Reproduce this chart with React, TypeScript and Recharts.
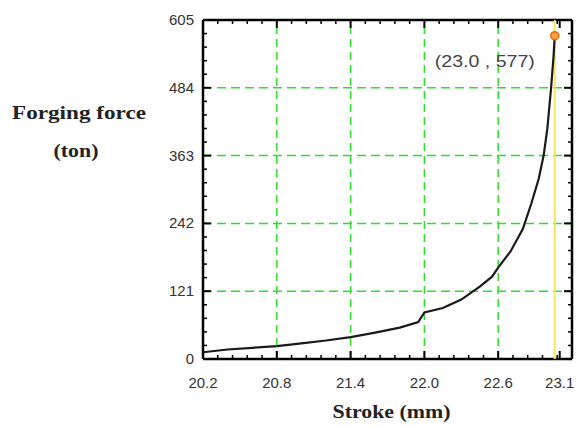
import { LineChart, Line, XAxis, YAxis, ReferenceLine, ReferenceDot } from 'recharts'

// stroke (mm) vs forging force (ton)
const strokeMm = [20.2, 20.4, 20.6, 20.8, 21.0, 21.2, 21.4, 21.6, 21.8, 21.95, 22.0, 22.15, 22.3, 22.45, 22.55, 22.6, 22.7, 22.8, 22.87, 22.93, 22.97, 23.0, 23.03, 23.05, 23.06]
const forceTon = [12, 17, 20, 23, 28, 33, 39, 47, 56, 66, 83, 91, 106, 129, 147, 163, 192, 232, 278, 322, 364, 412, 484, 540, 577]

const xMajor = [20.2, 20.8, 21.4, 22.0, 22.6, 23.1]
const yMajor = [0, 121, 242, 363, 484, 605]
const xGrid = [20.8, 21.4, 22.0, 22.6]
const yGrid = [121, 242, 363, 484]
const xDomain = [20.2, 23.2]
const yDomain = [0, 605]

const peak = { stroke: 23.06, force: 577, label: '(23.0 , 577)' }

const data = strokeMm.map((s, i) => ({ stroke: s, force: forceTon[i] }))
const margin = { top: 20, right: 9, bottom: 0, left: 0 }

// minor ticks: 5 subdivisions between the majors
const xMinor = Array.from({ length: 26 }, (_, k) => +(20.2 + k * 0.12).toFixed(2))
const yMinor = Array.from({ length: 26 }, (_, k) => +(k * 24.2).toFixed(1))
const xTicks = xMinor.concat(xMajor.filter(v => !xMinor.includes(v)))

const isMajor = (list: number[], v: number) => list.some(t => Math.abs(t - v) < 1e-6)

const tickFont = { fontFamily: 'Arial, "Liberation Sans", sans-serif', fontSize: 15, fill: '#333' }
const titleFont = { fontFamily: '"Times New Roman", "Liberation Serif", serif', fontSize: 18, fontWeight: 700, fill: '#222' }

// inward tick marks, drawn from a dot sitting on the frame edge
type Dir = 'up' | 'down' | 'right' | 'left'
const makeTick = (dir: Dir, len: number, w: number) => (p: any) => {
  const { cx, cy } = p
  const x2 = dir === 'right' ? cx + len : dir === 'left' ? cx - len : cx
  const y2 = dir === 'up' ? cy - len : dir === 'down' ? cy + len : cy
  return <line x1={cx} y1={cy} x2={x2} y2={y2} stroke="#000" strokeWidth={w} />
}
const tickShapes = {
  up: [makeTick('up', 8, 2), makeTick('up', 4, 1.5)],
  down: [makeTick('down', 8, 2), makeTick('down', 4, 1.5)],
  right: [makeTick('right', 8, 2), makeTick('right', 4, 1.5)],
  left: [makeTick('left', 8, 2), makeTick('left', 4, 1.5)],
}

const tickDots = [
  ...xTicks.map(v => ({ key: 'b' + v, x: v, y: yDomain[0], shape: tickShapes.up[isMajor(xMajor, v) ? 0 : 1] })),
  ...xTicks.map(v => ({ key: 't' + v, x: v, y: yDomain[1], shape: tickShapes.down[isMajor(xMajor, v) ? 0 : 1] })),
  ...yMinor.map(v => ({ key: 'l' + v, x: xDomain[0], y: v, shape: tickShapes.right[isMajor(yMajor, v) ? 0 : 1] })),
  ...yMinor.map(v => ({ key: 'r' + v, x: xDomain[1], y: v, shape: tickShapes.left[isMajor(yMajor, v) ? 0 : 1] })),
]

function BottomLabel({ x, y, payload }: any) {
  return <text x={x} y={y + 29} textAnchor="middle" {...tickFont}>{Number(payload.value).toFixed(1)}</text>
}

function LeftLabel({ x, y, payload }: any) {
  return <text x={x - 9} y={y + 5} textAnchor="end" {...tickFont}>{payload.value}</text>
}

function XTitle({ viewBox }: any) {
  const cx = viewBox.x + viewBox.width / 2
  return (
    <text x={cx + 4} y={viewBox.y + 59} textAnchor="middle" textLength={118} lengthAdjust="spacingAndGlyphs" {...titleFont}>
      Stroke (mm)
    </text>
  )
}

function YTitle({ viewBox }: any) {
  return (
    <g>
      <text x={79} y={viewBox.y + 99} textAnchor="middle" textLength={134} lengthAdjust="spacingAndGlyphs" {...titleFont}>
        Forging force
      </text>
      <text x={76} y={viewBox.y + 137} textAnchor="middle" textLength={45} lengthAdjust="spacingAndGlyphs" {...titleFont}>
        (ton)
      </text>
    </g>
  )
}

function PeakLabel({ viewBox }: any) {
  return (
    <text x={viewBox.x - 16} y={viewBox.y + 35} textAnchor="end" textLength={100} lengthAdjust="spacingAndGlyphs" {...tickFont} fontSize={16} fill="#444">
      {peak.label}
    </text>
  )
}

// stable element props so the chart settles after one pass
const bottomTick = <BottomLabel />
const leftTick = <LeftLabel />
const xTitle = <XTitle />
const yTitle = <YTitle />
const peakLabel = <PeakLabel />

export default function App() {
  return (
    <div style={{ position: 'absolute', left: 0, top: 0, background: '#fff' }}>
      <LineChart width={581} height={426} data={data} margin={margin}>
        <XAxis
          dataKey="stroke" type="number" domain={xDomain} ticks={xMajor}
          height={67} tickSize={0} tickMargin={0} tick={bottomTick}
          tickLine={false} axisLine={false} label={xTitle}
        />
        <YAxis
          type="number" domain={yDomain} ticks={yMajor}
          width={203} tickSize={0} tickMargin={0} tick={leftTick}
          tickLine={false} axisLine={false} label={yTitle}
        />
        {xGrid.map(v => (
          <ReferenceLine key={'gx' + v} x={v} stroke="#2ede2e" strokeWidth={1.5} strokeDasharray="8 5" />
        ))}
        {yGrid.map(v => (
          <ReferenceLine key={'gy' + v} y={v} stroke="#2ede2e" strokeWidth={1.5} strokeDasharray="9 5" />
        ))}
        {tickDots.map(d => (
          <ReferenceDot key={d.key} x={d.x} y={d.y} r={1} ifOverflow="visible" shape={d.shape} />
        ))}
        <ReferenceLine x={xDomain[0]} stroke="#000" strokeWidth={2.5} ifOverflow="visible" />
        <ReferenceLine x={xDomain[1]} stroke="#000" strokeWidth={2.5} ifOverflow="visible" />
        <ReferenceLine y={yDomain[0]} stroke="#000" strokeWidth={2.5} ifOverflow="visible" />
        <ReferenceLine y={yDomain[1]} stroke="#000" strokeWidth={2.5} ifOverflow="visible" />
        <ReferenceLine x={peak.stroke} stroke="#f2ea5c" strokeWidth={2} />
        <Line
          dataKey="force" type="linear" stroke="#1a1a1a" strokeWidth={2.2}
          dot={false} activeDot={false} isAnimationActive={false}
        />
        <ReferenceDot
          x={peak.stroke} y={peak.force} r={4} fill="#f6a040" stroke="#e86a10" strokeWidth={1.5}
          label={peakLabel}
        />
      </LineChart>
    </div>
  )
}
